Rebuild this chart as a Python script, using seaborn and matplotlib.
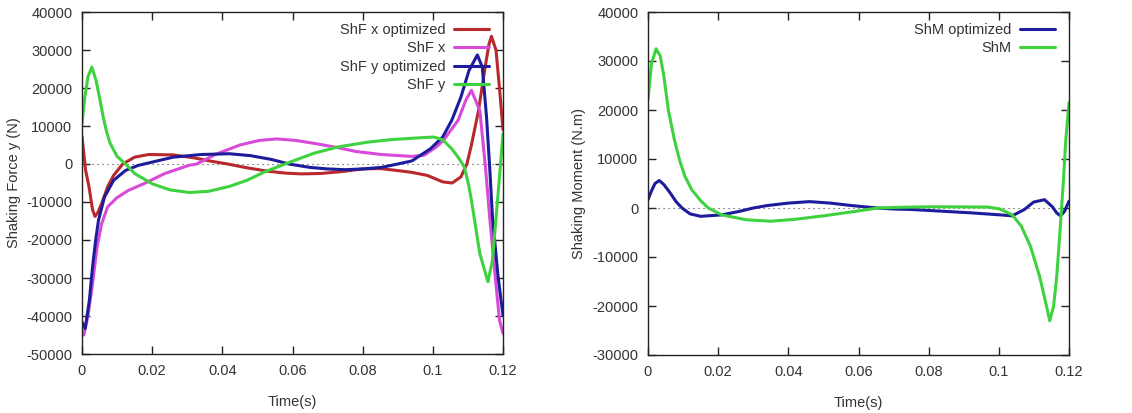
import numpy as np
import pandas as pd
import matplotlib
matplotlib.use("Agg")
import matplotlib.pyplot as plt
import seaborn as sns

sns.set_theme(style="ticks")
plt.rcParams['font.family'] = ['Liberation Sans', 'DejaVu Sans']
plt.rcParams['figure.facecolor'] = 'white'
plt.rcParams['axes.unicode_minus'] = False

# --- left panel: shaking forces (N) ---
t_fx_opt = [0, 0.001, 0.002, 0.003, 0.0037, 0.0045, 0.0056, 0.0073, 0.009, 0.0116, 0.015,
            0.019, 0.026, 0.032, 0.037, 0.0415, 0.047, 0.053, 0.058, 0.0625, 0.068, 0.074,
            0.08, 0.085, 0.0897, 0.094, 0.0984, 0.1028, 0.1055, 0.108, 0.1097, 0.111, 0.113,
            0.114, 0.115, 0.116, 0.1167, 0.118, 0.119, 0.12]
fx_opt = [7300, -1500, -6000, -12000, -13800, -12800, -10400, -6000, -3000, 0, 1800,
          2500, 2400, 1600, 700, 0, -1000, -1900, -2400, -2600, -2500, -2000,
          -1300, -1200, -1700, -2200, -3000, -4700, -5000, -3400, 0, 5000, 14000,
          20000, 26000, 31500, 33600, 30000, 20000, 9000]

t_fx = [0, 0.0005, 0.0017, 0.003, 0.0043, 0.0056, 0.0073, 0.0099, 0.0133, 0.0176, 0.0236,
        0.0305, 0.0327, 0.038, 0.045, 0.0505, 0.0555, 0.061, 0.067, 0.073, 0.078, 0.0853,
        0.094, 0.0975, 0.101, 0.103, 0.1072, 0.1095, 0.111, 0.1134, 0.115, 0.1162, 0.1177,
        0.119, 0.12]
fx = [-44600, -45000, -40000, -31500, -21800, -15700, -11300, -8900, -6900, -5200, -2500,
      -350, 0, 2500, 5000, 6200, 6600, 6200, 5300, 4300, 3300, 2500,
      2000, 2300, 4500, 6200, 11500, 17000, 19400, 14000, -800, -14000, -28800,
      -41100, -44600]

t_fy_opt = [0, 0.0009, 0.0021, 0.003, 0.0039, 0.0047, 0.0064, 0.009, 0.0124, 0.0159, 0.02,
            0.026, 0.034, 0.042, 0.048, 0.054, 0.059, 0.065, 0.07, 0.075, 0.08, 0.0853,
            0.09, 0.094, 0.0993, 0.1028, 0.1054, 0.108, 0.1103, 0.1127, 0.1141, 0.1153,
            0.1162, 0.117, 0.1186, 0.12]
fy_opt = [-41600, -43300, -35900, -27100, -20000, -14800, -8700, -4300, -1700, -400, 500,
          1800, 2500, 2700, 2200, 1200, 0, -900, -1300, -1500, -1300, -900,
          0, 800, 4000, 7100, 11500, 17600, 24600, 28700, 25500, 12400,
          -800, -14000, -29700, -39800]

t_fy = [0, 0.0008, 0.0017, 0.0028, 0.004, 0.005, 0.006, 0.007, 0.008, 0.01, 0.0124,
        0.015, 0.02, 0.025, 0.0305, 0.036, 0.042, 0.047, 0.052, 0.059, 0.066, 0.073,
        0.0818, 0.088, 0.0945, 0.1002, 0.1028, 0.1054, 0.1072, 0.109, 0.1103, 0.111,
        0.1134, 0.1157, 0.117, 0.1186, 0.12]
fy = [10600, 17500, 23000, 25500, 22000, 17500, 12500, 8500, 5500, 2000, 0,
      -2500, -5200, -6800, -7500, -7200, -5900, -4300, -2100, 400, 2800, 4500,
      5800, 6400, 6800, 7100, 6400, 4000, 1800, -800, -6000, -9500,
      -23600, -31000, -25300, -7800, 8000]

# --- right panel: shaking moment (N.m) ---
t_shm_opt = [0, 0.001, 0.002, 0.0032, 0.0045, 0.0063, 0.008, 0.0097, 0.012, 0.015, 0.021,
             0.026, 0.03, 0.034, 0.04, 0.046, 0.052, 0.058, 0.0654, 0.07, 0.075, 0.08,
             0.0923, 0.1003, 0.1038, 0.1073, 0.1099, 0.113, 0.1152, 0.1165, 0.1176,
             0.1187, 0.12]
shm_opt = [1700, 3500, 5000, 5600, 4800, 3100, 1300, 0, -1200, -1700, -1400,
           -700, 0, 500, 1000, 1300, 1000, 500, 0, -200, -300, -500,
           -1000, -1400, -1600, -300, 1200, 1700, 300, -1000, -1600,
           -700, 1400]

t_shm = [0, 0.001, 0.0023, 0.0035, 0.0045, 0.0058, 0.0075, 0.0089, 0.0105, 0.0125, 0.015,
         0.0172, 0.021, 0.028, 0.035, 0.042, 0.05, 0.059, 0.0654, 0.072, 0.08, 0.0837,
         0.0968, 0.1003, 0.1038, 0.1064, 0.109, 0.1116, 0.1134, 0.1145, 0.1156, 0.1165,
         0.1174, 0.1183, 0.1191, 0.12]
shm = [22100, 29500, 32500, 31000, 27000, 20000, 14000, 10000, 6500, 3700, 1500,
       0, -1400, -2400, -2700, -2300, -1600, -700, 0, 150, 250, 250,
       200, -200, -1400, -3700, -7800, -13900, -19400, -23000, -20100, -14000,
       -5100, 4400, 14000, 21500]

x_ticks = [0, 0.02, 0.04, 0.06, 0.08, 0.1, 0.12]
x_tick_labels = ['0', '0.02', '0.04', '0.06', '0.08', '0.1', '0.12']

RED = '#b8282c'
MAGENTA = '#d84ad8'
BLUE = '#1c1c9c'
GREEN = '#3fd23f'
TEXT = '#333333'


def style_axes(ax, ylim, ylabel, ylabel_x):
    ax.set_xlim(0, 0.12)
    ax.set_ylim(*ylim)
    ax.set_xticks(x_ticks)
    ax.set_xticklabels(x_tick_labels)
    ax.set_yticks(np.arange(ylim[0], ylim[1] + 1, 10000))
    ax.tick_params(direction='in', top=True, right=True, length=6, width=1,
                   pad=7, labelsize=10.5, labelcolor=TEXT, color='#222222')
    for sp in ax.spines.values():
        sp.set_visible(True)
        sp.set_linewidth(1.0)
        sp.set_color('#222222')
    ax.axhline(0, color='#444444', lw=0.8, ls=(0, (1, 3.5)), zorder=1)
    ax.set_xlabel('Time(s)', fontsize=10.5, color=TEXT)
    ax.set_ylabel(ylabel, fontsize=10.5, color=TEXT)
    ax.xaxis.set_label_coords(0.5, -0.12)
    ax.yaxis.set_label_coords(ylabel_x, 0.5)
    ax.legend(loc='upper right', bbox_to_anchor=(0.967, 0.968), frameon=False,
              markerfirst=False, fontsize=10.5, handlelength=2.4, handletextpad=0.6,
              labelspacing=0.3, borderpad=0, borderaxespad=0, labelcolor=TEXT)


fig = plt.figure(figsize=(11.32, 4.13), dpi=100)
ax1 = fig.add_axes([82 / 1132, 1 - 354 / 413, 421 / 1132, 342 / 413])
ax2 = fig.add_axes([648 / 1132, 1 - 355 / 413, 421 / 1132, 343 / 413])

sns.lineplot(x=t_fx_opt, y=fx_opt, ax=ax1, color=RED, lw=2.2, label='ShF x optimized')
sns.lineplot(x=t_fx, y=fx, ax=ax1, color=MAGENTA, lw=2.2, label='ShF x')
sns.lineplot(x=t_fy_opt, y=fy_opt, ax=ax1, color=BLUE, lw=2.2, label='ShF y optimized')
sns.lineplot(x=t_fy, y=fy, ax=ax1, color=GREEN, lw=2.2, label='ShF y')
style_axes(ax1, (-50000, 40000), 'Shaking Force y (N)', -0.145)

sns.lineplot(x=t_shm_opt, y=shm_opt, ax=ax2, color=BLUE, lw=2.2, label='ShM optimized')
sns.lineplot(x=t_shm, y=shm, ax=ax2, color=GREEN, lw=2.2, label='ShM')
style_axes(ax2, (-30000, 40000), 'Shaking Moment (N.m)', -0.147)

fig.savefig('out.png', dpi=100)
